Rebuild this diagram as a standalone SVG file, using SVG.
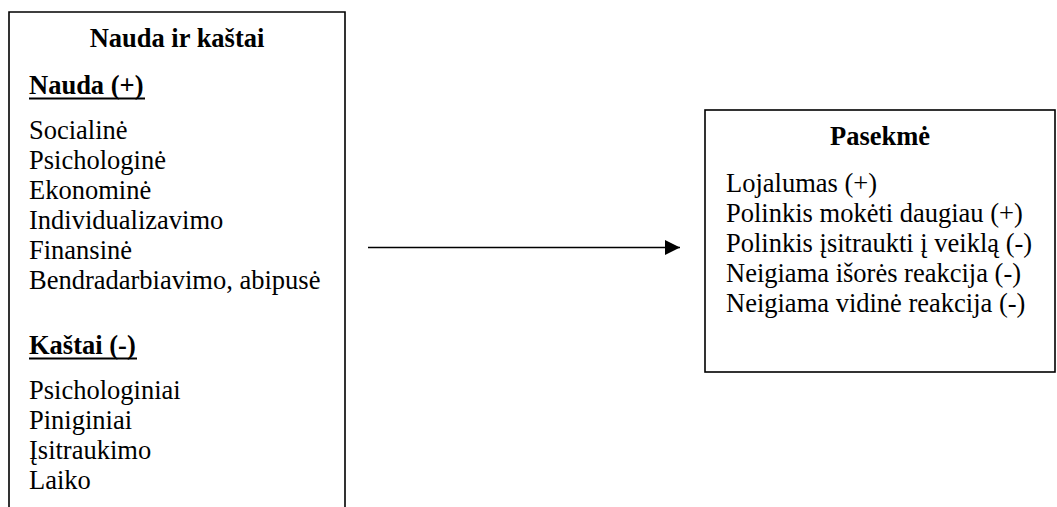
<svg xmlns="http://www.w3.org/2000/svg" width="1057" height="507" viewBox="0 0 1057 507">
  <style>
    .box { fill: #ffffff; stroke: #000000; stroke-width: 1.6; }
    .txt { font-family: "Liberation Serif", "Times New Roman", serif; font-size: 26.5px; fill: #000000; }
    .bold { font-weight: bold; }
    .head { font-family: "Liberation Serif", "Times New Roman", serif; font-size: 26.5px; font-weight: bold; fill: #000000; text-anchor: middle; }
    .edge { stroke: #000000; stroke-width: 1.6; fill: none; }
    .rule { stroke: #000000; stroke-width: 2.2; }
  </style>
  <defs>
    <marker id="arrowhead" markerUnits="userSpaceOnUse" markerWidth="16" markerHeight="16" refX="15" refY="7.5" orient="auto">
      <path d="M0,0 L15,7.5 L0,15 Z" fill="#000000"/>
    </marker>
  </defs>

  <rect width="1057" height="507" fill="#ffffff"/>

  <!-- Benefits and costs (open at the bottom edge) -->
  <g id="node-nauda-ir-kastai">
    <path class="box" d="M9,520 L9,12 L345,12 L345,520"/>
    <text class="head" x="177" y="47">Nauda ir kaštai</text>
    <text class="txt bold" x="29" y="94">Nauda (+)</text>
    <line class="rule" x1="29" y1="98.5" x2="145" y2="98.5"/>
    <text class="txt" x="29" y="139">Socialinė</text>
    <text class="txt" x="29" y="169">Psichologinė</text>
    <text class="txt" x="29" y="199">Ekonominė</text>
    <text class="txt" x="29" y="229">Individualizavimo</text>
    <text class="txt" x="29" y="259">Finansinė</text>
    <text class="txt" x="29" y="289">Bendradarbiavimo, abipusė</text>
    <text class="txt bold" x="29" y="354">Kaštai (-)</text>
    <line class="rule" x1="29" y1="358.5" x2="137" y2="358.5"/>
    <text class="txt" x="29" y="399">Psichologiniai</text>
    <text class="txt" x="29" y="429">Piniginiai</text>
    <text class="txt" x="29" y="459">Įsitraukimo</text>
    <text class="txt" x="29" y="489">Laiko</text>
  </g>

  <!-- Consequences -->
  <g id="node-pasekme">
    <rect class="box" x="705" y="110" width="350" height="262"/>
    <text class="head" x="880" y="145">Pasekmė</text>
    <text class="txt" x="726" y="192">Lojalumas (+)</text>
    <text class="txt" x="726" y="222">Polinkis mokėti daugiau (+)</text>
    <text class="txt" x="726" y="252">Polinkis įsitraukti į veiklą (-)</text>
    <text class="txt" x="726" y="282">Neigiama išorės reakcija (-)</text>
    <text class="txt" x="726" y="312">Neigiama vidinė reakcija (-)</text>
  </g>

  <g id="connectors">
    <line class="edge" x1="368" y1="247.5" x2="680" y2="247.5" marker-end="url(#arrowhead)"/>
  </g>
</svg>
